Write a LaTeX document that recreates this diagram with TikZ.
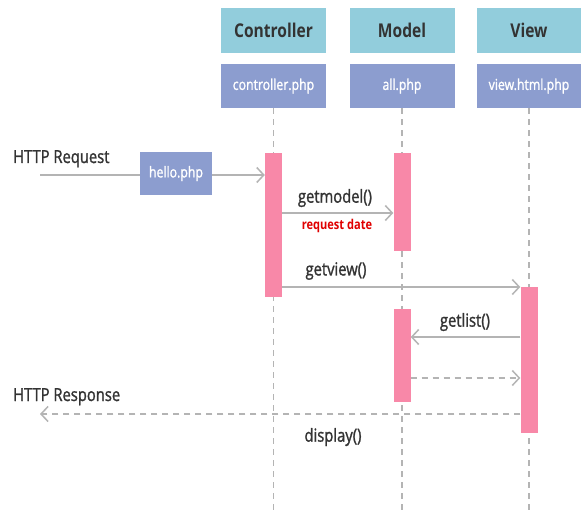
\documentclass[tikz,border=0pt]{standalone}
\usepackage{fontspec}
\setmainfont{Open Sans}[FakeStretch=0.82]
\newfontfamily\medfont{Open Sans}[FakeStretch=0.82,FakeBold=1.3]
\usetikzlibrary{arrows.meta,calc}
\definecolor{hdrfill}{HTML}{92CDDC}
\definecolor{filefill}{HTML}{8C9DCF}
\definecolor{barfill}{HTML}{F888A8}
\definecolor{linegray}{HTML}{B4B4B4}
\definecolor{txtdark}{HTML}{333333}
\definecolor{notered}{HTML}{E00000}
\tikzset{
  hdr/.style={fill=hdrfill, minimum width=105pt, minimum height=45pt, inner sep=0pt,
    text=txtdark, font=\fontsize{19}{20}\selectfont\bfseries},
  filebox/.style={fill=filefill, minimum width=105pt, minimum height=44pt, inner sep=0pt,
    text=white, font=\medfont\fontsize{15}{16}\selectfont},
  life/.style={draw=linegray, line width=1.1pt, dash pattern=on 6pt off 5pt},
  actbar/.style={fill=barfill, minimum width=17pt, inner sep=0pt, anchor=north},
  msg/.style={draw=linegray, line width=1.5pt},
  call/.style={msg, -{Straight Barb[length=7pt,width=15pt,line width=1.5pt]}},
  reply/.style={call, dash pattern=on 6pt off 5pt},
  lbl/.style={text=txtdark, font=\medfont\fontsize{18}{19}\selectfont, inner sep=0pt},
}
\begin{document}
\begin{tikzpicture}[x=1pt,y=-1pt]
\useasboundingbox (0,0) rectangle (581,513);
\fill[white] (0,0) rectangle (581,513);

% participant headers
\node[hdr] (ch) at (273.5,30.5) {Controller};
\node[hdr] (mh) at (402,30.5) {Model};
\node[hdr] (vh) at (529,30.5) {View};
\node[filebox] (cf) at (273.5,86) {controller.php};
\node[filebox] (mf) at (402,86) {all.php};
\node[filebox] (vf) at (529,86) {view.html.php};

% lifelines
\coordinate (cend) at (273.5,513);
\coordinate (mend) at (402,513);
\coordinate (vend) at (529,513);
\draw[life] (cf.south) -- (cend);
\draw[life] (mf.south) -- (mend);
\draw[life] (vf.south) -- (vend);

% activation bars
\node[actbar, minimum height=144pt] (cb) at (273.5,153) {};
\node[actbar, minimum height=98pt] (mb1) at (402,153) {};
\node[actbar, minimum height=146pt] (vb) at (529,287) {};
\node[actbar, minimum height=93pt] (mb2) at (402,309) {};

% incoming request
\node[lbl, anchor=base west] (reqtxt) at (13,163) {HTTP Request};
\node[filebox, minimum width=72pt, minimum height=43pt] (hello) at (176,173.5) {hello.php};
\coordinate (reqstart) at (40,175);
\draw[msg] (reqstart) -- (reqstart -| hello.west);
\draw[call] (hello.east |- reqstart) -- (cb.west |- reqstart);

% getmodel
\coordinate (gm) at (0,213);
\draw[call] (cb.east |- gm) -- (mb1.west |- gm);
\node[lbl] (gmtxt) at (335,198) {getmodel()};
\node[text=notered, font=\fontsize{13.5}{14}\selectfont\bfseries, inner sep=0pt] (rd) at (337,226) {request date};

% getview
\coordinate (gv) at (0,287);
\draw[call] (cb.east |- gv) -- (vb.west |- gv);
\node[lbl] (gvtxt) at (336,271) {getview()};

% getlist
\coordinate (gl) at (0,337);
\draw[call] (vb.west |- gl) -- (mb2.east |- gl);
\node[lbl] (gltxt) at (465,322) {getlist()};

% list returned
\coordinate (lr) at (0,378);
\draw[reply] (mb2.east |- lr) -- (vb.west |- lr);

% response
\coordinate (resp) at (40,414);
\draw[reply] (vb.west |- resp) -- (resp);
\node[lbl, anchor=base west] (resptxt) at (13,401) {HTTP Response};
\node[lbl] (disp) at (333,437) {display()};
\end{tikzpicture}
\end{document}
